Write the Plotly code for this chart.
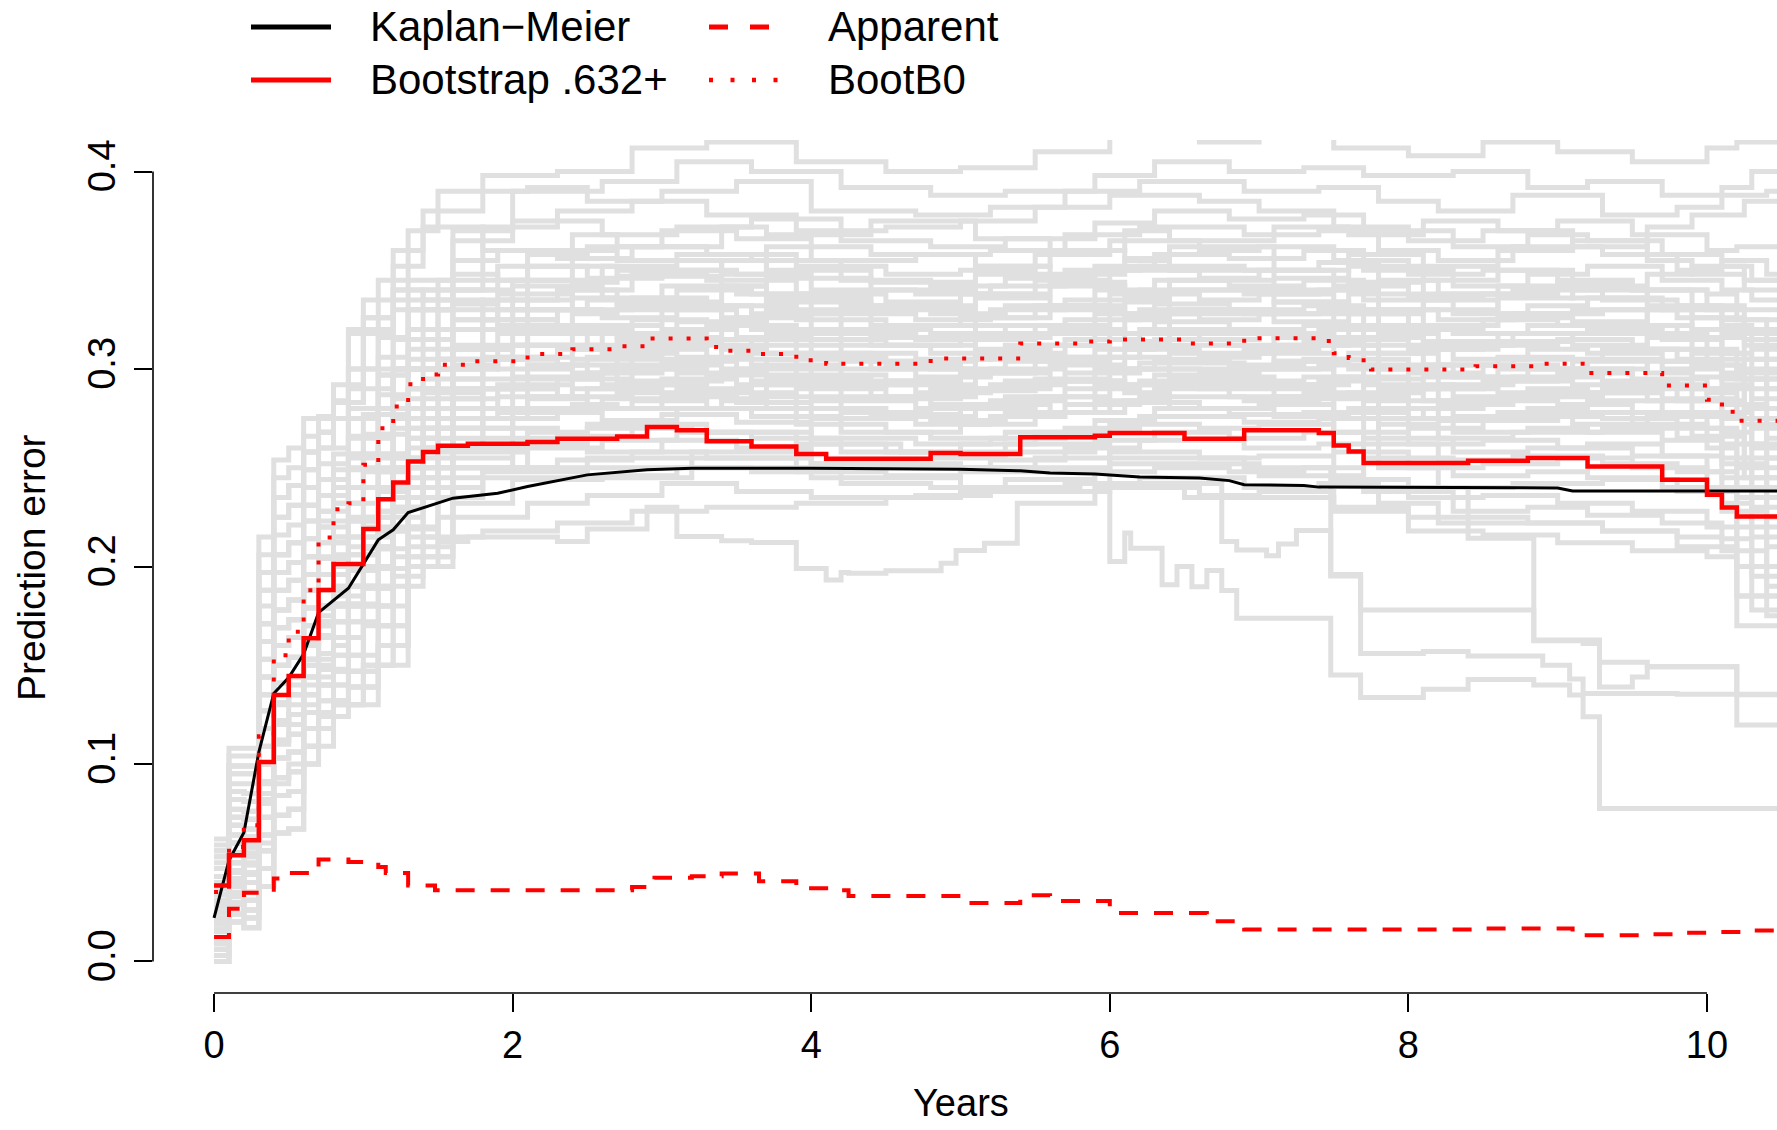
import plotly.graph_objects as go

# ---------------- data ----------------
# Kaplan-Meier reference curve (piecewise linear)
km_t = [0, 0.1, 0.2, 0.3, 0.4, 0.5, 0.6, 0.7, 0.9, 1.1, 1.2, 1.3, 1.6, 1.9, 2.1, 2.5, 2.9, 3.2,
        4.0, 5.0, 5.4, 5.6, 5.9, 6.2, 6.6, 6.8, 6.9, 7.3, 7.4, 9.0, 9.1, 10.5]
km_y = [0.022, 0.0512, 0.0653, 0.106, 0.1357, 0.1438, 0.1557, 0.1766, 0.189, 0.2135, 0.2186, 0.2273,
        0.2346, 0.2371, 0.2405, 0.2464, 0.249, 0.2498, 0.2497, 0.2492, 0.2485, 0.2473, 0.2468, 0.2453,
        0.2448, 0.2435, 0.2414, 0.2410, 0.2402, 0.2398, 0.2383, 0.2383]

# Bootstrap .632+ (step)
b632_t = [0, 0.1, 0.2, 0.3, 0.4, 0.5, 0.6, 0.7, 0.8, 1.0, 1.1, 1.2, 1.3, 1.4, 1.5, 1.7, 2.1, 2.3, 2.7,
          2.9, 3.1, 3.3, 3.6, 3.9, 4.1, 4.8, 5.0, 5.4, 5.9, 6.0, 6.5, 6.9, 7.4, 7.5, 7.6, 7.7, 8.4,
          8.8, 9.2, 9.7, 10.0, 10.1, 10.2]
b632_y = [0.0385, 0.0537, 0.0613, 0.101, 0.1349, 0.1445, 0.1636, 0.1881, 0.2013, 0.219, 0.234, 0.2426,
          0.2532, 0.258, 0.2612, 0.2622, 0.263, 0.2647, 0.2659, 0.2706, 0.269, 0.2634, 0.2608, 0.257,
          0.2546, 0.2575, 0.257, 0.2654, 0.2662, 0.2676, 0.2647, 0.269, 0.2676, 0.2613, 0.2583, 0.2524,
          0.2535, 0.2549, 0.2507, 0.2439, 0.2363, 0.2299, 0.2253]

# Apparent (step)
app_t = [0, 0.1, 0.2, 0.4, 0.5, 0.7, 0.9, 1.1, 1.15, 1.3, 1.48, 2.8, 2.95, 3.2, 3.4, 3.65, 3.9,
         4.1, 4.25, 5.0, 5.4, 5.6, 6.0, 6.05, 6.65, 6.9, 8.5, 9.1, 9.55, 9.8, 10.05, 10.3]
app_y = [0.0123, 0.0267, 0.0348, 0.042, 0.0448, 0.0516, 0.0504, 0.0478, 0.0448, 0.0385, 0.036,
         0.0377, 0.0424, 0.0431, 0.0445, 0.0406, 0.037, 0.036, 0.0331, 0.0296, 0.0335, 0.0306,
         0.0275, 0.0245, 0.0203, 0.0162, 0.0167, 0.0132, 0.0138, 0.0145, 0.0149, 0.0157]

# BootB0 (step)
b0_t = [0, 0.1, 0.2, 0.3, 0.4, 0.5, 0.6, 0.7, 0.8, 0.9, 1.0, 1.1, 1.2, 1.3, 1.4, 1.5, 1.7, 2.1, 2.4,
        2.7, 2.9, 3.3, 3.4, 3.6, 3.9, 4.1, 4.8, 5.4, 5.85, 6.0, 6.5, 6.9, 7.45, 7.5, 7.6, 7.7, 7.75,
        8.45, 8.9, 9.2, 9.7, 10.0, 10.1, 10.15, 10.2]
b0_y = [0.0352, 0.058, 0.069, 0.114, 0.155, 0.167, 0.188, 0.2147, 0.229, 0.232, 0.2515, 0.270, 0.281,
        0.2923, 0.2973, 0.3022, 0.304, 0.3076, 0.310, 0.3115, 0.3155, 0.3112, 0.3093, 0.3076, 0.3044,
        0.3027, 0.3053, 0.3129, 0.3139, 0.315, 0.3129, 0.3156, 0.3142, 0.308, 0.3056, 0.3032, 0.2998,
        0.3014, 0.3027, 0.298, 0.2917, 0.2845, 0.2821, 0.2784, 0.2738]

# bootstrap curves (grey, step) on four evaluation grids
times_a = [0, 0.1, 0.2, 0.3, 0.4, 0.5, 0.6, 0.7, 0.8, 1.0, 1.2, 1.4, 1.8, 2.3, 2.8, 3.3, 3.9, 4.5,
           5.0, 5.5, 6.0, 6.6, 7.0, 7.5, 8.0, 8.5, 9.0, 9.5, 10.0, 10.2]
times_b = [0, 0.1, 0.2, 0.3, 0.4, 0.5, 0.6, 0.7, 0.9, 1.1, 1.3, 1.6, 2.0, 2.6, 3.1, 3.6, 4.2, 4.8,
           5.3, 5.9, 6.3, 6.8, 7.3, 7.7, 8.3, 8.8, 9.2, 9.7, 10.1, 10.3]
times_c = [0, 0.1, 0.2, 0.3, 0.4, 0.5, 0.6, 0.8, 0.9, 1.1, 1.3, 1.5, 2.1, 2.5, 3.0, 3.5, 4.0, 4.7,
           5.2, 5.7, 6.2, 6.9, 7.4, 7.8, 8.2, 8.7, 9.3, 9.8, 10.1, 10.4]
times_d = [0, 0.1, 0.2, 0.3, 0.4, 0.5, 0.6, 0.7, 0.8, 0.9, 1.2, 1.6, 1.9, 2.4, 2.7, 3.4, 3.7, 4.4,
           5.1, 5.6, 6.1, 6.4, 7.1, 7.6, 8.1, 8.6, 9.1, 9.6, 9.9, 10.25]

g01 = [0.056,0.099,0.099,0.197,0.235,0.241,0.258,0.268,0.283,0.326,0.352,0.380,0.398,0.400,0.412,0.415,0.405,0.400,0.402,0.410,0.418,0.415,0.420,0.412,0.408,0.415,0.410,0.405,0.412,0.415]
g02 = [0.047,0.086,0.085,0.171,0.206,0.212,0.231,0.244,0.257,0.297,0.330,0.365,0.390,0.395,0.405,0.400,0.392,0.388,0.390,0.398,0.405,0.400,0.402,0.398,0.400,0.392,0.395,0.388,0.392,0.400]
g03 = [0.062,0.108,0.108,0.215,0.254,0.260,0.275,0.284,0.300,0.345,0.370,0.390,0.392,0.385,0.390,0.395,0.380,0.378,0.382,0.390,0.395,0.390,0.392,0.385,0.380,0.388,0.378,0.382,0.388,0.390]
g04 = [0.037,0.073,0.072,0.144,0.178,0.183,0.205,0.220,0.232,0.267,0.300,0.340,0.372,0.380,0.385,0.378,0.370,0.372,0.375,0.382,0.388,0.385,0.380,0.372,0.365,0.370,0.375,0.368,0.360,0.362]
g05 = [0.053,0.095,0.095,0.188,0.225,0.231,0.249,0.260,0.275,0.316,0.345,0.370,0.375,0.368,0.372,0.376,0.365,0.362,0.366,0.374,0.380,0.376,0.378,0.370,0.362,0.368,0.365,0.358,0.352,0.345]
g06 = [0.031,0.064,0.063,0.127,0.160,0.164,0.188,0.204,0.215,0.248,0.290,0.330,0.358,0.362,0.370,0.366,0.355,0.358,0.360,0.368,0.372,0.368,0.370,0.360,0.355,0.362,0.358,0.350,0.355,0.348]
g07 = [0.059,0.104,0.104,0.206,0.245,0.250,0.266,0.276,0.292,0.335,0.360,0.372,0.360,0.356,0.362,0.358,0.352,0.348,0.350,0.358,0.365,0.360,0.362,0.355,0.348,0.350,0.345,0.340,0.338,0.330]
g08 = [0.025,0.055,0.053,0.109,0.141,0.144,0.170,0.188,0.198,0.228,0.270,0.310,0.345,0.352,0.358,0.355,0.345,0.342,0.346,0.352,0.358,0.356,0.360,0.350,0.342,0.348,0.352,0.345,0.340,0.335]
g09 = [0.043,0.082,0.081,0.162,0.197,0.202,0.223,0.236,0.249,0.287,0.320,0.345,0.352,0.346,0.350,0.348,0.340,0.338,0.342,0.350,0.352,0.350,0.354,0.345,0.338,0.340,0.335,0.332,0.325,0.318]
g10 = [0.019,0.046,0.044,0.091,0.122,0.125,0.153,0.172,0.181,0.209,0.255,0.300,0.335,0.340,0.348,0.345,0.338,0.334,0.338,0.345,0.350,0.346,0.350,0.342,0.336,0.338,0.344,0.340,0.330,0.325]
g11 = [0.050,0.090,0.090,0.180,0.216,0.221,0.240,0.252,0.266,0.306,0.330,0.340,0.342,0.336,0.340,0.338,0.332,0.328,0.332,0.340,0.345,0.342,0.345,0.335,0.328,0.332,0.336,0.330,0.322,0.310]
g12 = [0.034,0.069,0.067,0.135,0.169,0.173,0.196,0.212,0.223,0.257,0.290,0.320,0.330,0.335,0.342,0.338,0.328,0.325,0.330,0.335,0.340,0.338,0.340,0.330,0.325,0.328,0.330,0.326,0.318,0.305]
g13 = [0.012,0.038,0.035,0.073,0.103,0.106,0.135,0.156,0.164,0.189,0.235,0.285,0.325,0.330,0.336,0.332,0.325,0.322,0.326,0.332,0.338,0.335,0.338,0.328,0.320,0.325,0.322,0.318,0.310,0.300]
g14 = [0.040,0.077,0.076,0.153,0.188,0.193,0.214,0.228,0.240,0.277,0.305,0.320,0.330,0.326,0.332,0.328,0.320,0.318,0.322,0.328,0.333,0.330,0.332,0.322,0.318,0.322,0.320,0.315,0.308,0.298]
g15 = [0.028,0.060,0.058,0.118,0.150,0.154,0.179,0.196,0.206,0.238,0.275,0.305,0.320,0.322,0.330,0.326,0.318,0.315,0.318,0.325,0.330,0.328,0.330,0.318,0.312,0.318,0.322,0.316,0.305,0.290]
g16 = [0.056,0.099,0.099,0.197,0.235,0.241,0.258,0.268,0.283,0.326,0.340,0.335,0.325,0.320,0.325,0.322,0.315,0.312,0.315,0.322,0.328,0.325,0.328,0.315,0.310,0.312,0.315,0.310,0.302,0.295]
g17 = [0.022,0.050,0.049,0.100,0.131,0.135,0.161,0.180,0.190,0.218,0.260,0.295,0.312,0.318,0.324,0.320,0.312,0.308,0.312,0.318,0.324,0.320,0.322,0.312,0.305,0.310,0.308,0.304,0.298,0.285]
g18 = [0.037,0.073,0.072,0.144,0.178,0.183,0.205,0.220,0.232,0.267,0.290,0.305,0.318,0.312,0.320,0.316,0.308,0.305,0.308,0.315,0.320,0.318,0.320,0.308,0.302,0.305,0.310,0.305,0.295,0.280]
g19 = [0.006,0.029,0.026,0.056,0.084,0.086,0.118,0.140,0.147,0.170,0.220,0.270,0.305,0.310,0.318,0.315,0.306,0.302,0.305,0.312,0.318,0.315,0.318,0.305,0.298,0.302,0.300,0.295,0.288,0.275]
g20 = [0.047,0.086,0.085,0.171,0.206,0.212,0.231,0.244,0.257,0.297,0.310,0.310,0.312,0.308,0.315,0.312,0.304,0.300,0.304,0.310,0.315,0.312,0.314,0.302,0.296,0.300,0.305,0.300,0.292,0.270]
g21 = [0.016,0.042,0.040,0.082,0.112,0.115,0.144,0.164,0.172,0.199,0.240,0.280,0.302,0.306,0.312,0.308,0.300,0.296,0.300,0.306,0.312,0.310,0.312,0.300,0.292,0.296,0.294,0.290,0.282,0.265]
g22 = [0.031,0.064,0.063,0.127,0.160,0.164,0.188,0.204,0.215,0.248,0.280,0.295,0.306,0.302,0.310,0.305,0.297,0.294,0.298,0.304,0.310,0.306,0.308,0.296,0.290,0.294,0.298,0.292,0.285,0.275]
g23 = [0.000,0.020,0.017,0.038,0.065,0.067,0.100,0.124,0.130,0.150,0.200,0.255,0.295,0.300,0.306,0.302,0.294,0.290,0.294,0.300,0.305,0.302,0.305,0.292,0.286,0.290,0.288,0.285,0.278,0.260]
g24 = [0.025,0.055,0.053,0.109,0.141,0.144,0.170,0.188,0.198,0.228,0.265,0.290,0.302,0.298,0.304,0.300,0.292,0.288,0.292,0.298,0.303,0.300,0.302,0.290,0.282,0.286,0.290,0.284,0.275,0.255]
g25 = [0.009,0.033,0.031,0.064,0.093,0.096,0.126,0.148,0.155,0.180,0.225,0.270,0.290,0.295,0.300,0.297,0.290,0.285,0.289,0.295,0.300,0.298,0.300,0.286,0.280,0.284,0.282,0.278,0.270,0.250]
g26 = [0.034,0.069,0.067,0.135,0.169,0.173,0.196,0.212,0.223,0.257,0.280,0.290,0.296,0.292,0.298,0.294,0.286,0.282,0.286,0.292,0.297,0.294,0.296,0.284,0.276,0.280,0.284,0.278,0.268,0.245]
g27 = [0.019,0.046,0.044,0.091,0.122,0.125,0.153,0.172,0.181,0.209,0.245,0.275,0.286,0.290,0.295,0.292,0.284,0.280,0.284,0.290,0.294,0.292,0.294,0.280,0.274,0.276,0.275,0.270,0.262,0.240]
g28 = [0.040,0.077,0.076,0.153,0.188,0.193,0.214,0.228,0.240,0.277,0.285,0.288,0.290,0.286,0.292,0.288,0.280,0.277,0.280,0.286,0.292,0.290,0.290,0.278,0.270,0.274,0.278,0.272,0.260,0.235]
g29 = [0.003,0.024,0.022,0.047,0.074,0.077,0.109,0.132,0.139,0.160,0.210,0.260,0.280,0.285,0.290,0.286,0.278,0.274,0.278,0.284,0.290,0.286,0.288,0.275,0.268,0.270,0.268,0.264,0.255,0.230]
g30 = [0.028,0.060,0.058,0.118,0.150,0.154,0.179,0.196,0.206,0.238,0.265,0.280,0.285,0.280,0.286,0.283,0.275,0.272,0.276,0.282,0.286,0.284,0.285,0.272,0.265,0.268,0.270,0.265,0.252,0.225]
g31 = [0.012,0.038,0.035,0.073,0.103,0.106,0.135,0.156,0.164,0.189,0.230,0.265,0.275,0.280,0.284,0.280,0.272,0.268,0.272,0.278,0.283,0.280,0.282,0.268,0.262,0.264,0.260,0.256,0.248,0.220]
g32 = [0.022,0.050,0.049,0.100,0.131,0.135,0.161,0.180,0.190,0.218,0.250,0.270,0.278,0.274,0.280,0.276,0.268,0.265,0.268,0.274,0.280,0.277,0.278,0.265,0.258,0.260,0.262,0.256,0.245,0.215]
g33 = [0.006,0.029,0.026,0.056,0.084,0.086,0.118,0.140,0.147,0.170,0.215,0.258,0.268,0.272,0.277,0.273,0.265,0.262,0.265,0.270,0.276,0.273,0.275,0.262,0.254,0.256,0.252,0.248,0.240,0.210]
g34 = [0.016,0.042,0.040,0.082,0.112,0.115,0.144,0.164,0.172,0.199,0.235,0.260,0.270,0.266,0.272,0.268,0.262,0.258,0.262,0.268,0.272,0.270,0.272,0.258,0.250,0.252,0.255,0.250,0.238,0.200]
g35 = [0.003,0.024,0.022,0.047,0.074,0.077,0.109,0.132,0.139,0.160,0.205,0.250,0.260,0.264,0.268,0.265,0.258,0.255,0.258,0.264,0.268,0.265,0.268,0.255,0.246,0.248,0.245,0.240,0.232,0.195]
g36 = [0.009,0.033,0.031,0.064,0.093,0.096,0.126,0.148,0.155,0.180,0.220,0.250,0.262,0.258,0.264,0.260,0.252,0.250,0.254,0.260,0.264,0.260,0.262,0.250,0.240,0.242,0.244,0.238,0.228,0.190]
g37 = [0.000,0.020,0.017,0.038,0.065,0.067,0.100,0.124,0.130,0.150,0.195,0.235,0.250,0.254,0.258,0.255,0.248,0.246,0.250,0.255,0.258,0.255,0.256,0.244,0.235,0.236,0.232,0.228,0.220,0.185]
g38 = [0.006,0.029,0.026,0.056,0.084,0.086,0.118,0.140,0.147,0.170,0.205,0.232,0.244,0.246,0.250,0.248,0.242,0.240,0.244,0.248,0.250,0.248,0.250,0.238,0.228,0.230,0.226,0.222,0.214,0.178]
g39 = [0.003,0.024,0.022,0.047,0.074,0.077,0.109,0.132,0.139,0.160,0.200,0.225,0.232,0.236,0.242,0.238,0.235,0.236,0.240,0.242,0.245,0.240,0.242,0.232,0.222,0.222,0.218,0.215,0.208,0.175]
g40 = [0.000,0.020,0.017,0.038,0.065,0.067,0.100,0.124,0.130,0.150,0.190,0.215,0.218,0.222,0.228,0.230,0.232,0.235,0.238,0.238,0.240,0.236,0.235,0.228,0.218,0.216,0.212,0.208,0.205,0.170]

h01 = [0.043,0.082,0.081,0.162,0.197,0.202,0.223,0.236,0.249,0.300,0.335,0.355,0.360,0.368,0.362,0.372,0.368,0.375,0.366,0.360,0.370,0.365,0.372,0.368,0.375,0.370,0.362,0.372,0.378,0.385]
h02 = [0.022,0.050,0.049,0.100,0.131,0.135,0.161,0.180,0.190,0.240,0.300,0.340,0.352,0.360,0.355,0.348,0.362,0.358,0.352,0.360,0.355,0.362,0.350,0.358,0.352,0.360,0.365,0.355,0.348,0.340]
h03 = [0.053,0.095,0.095,0.188,0.225,0.231,0.249,0.260,0.275,0.320,0.340,0.348,0.345,0.352,0.347,0.355,0.350,0.344,0.352,0.348,0.356,0.350,0.346,0.352,0.345,0.350,0.342,0.348,0.352,0.345]
h04 = [0.012,0.038,0.035,0.073,0.103,0.106,0.135,0.156,0.164,0.200,0.270,0.320,0.338,0.344,0.350,0.342,0.346,0.340,0.348,0.344,0.338,0.345,0.340,0.344,0.338,0.342,0.336,0.340,0.332,0.320]
h05 = [0.037,0.073,0.072,0.144,0.178,0.183,0.205,0.220,0.232,0.280,0.315,0.333,0.335,0.340,0.334,0.342,0.336,0.332,0.338,0.342,0.336,0.340,0.334,0.338,0.330,0.336,0.340,0.332,0.326,0.315]
h06 = [0.028,0.060,0.058,0.118,0.150,0.154,0.179,0.196,0.206,0.255,0.300,0.325,0.330,0.336,0.330,0.326,0.334,0.330,0.336,0.330,0.334,0.328,0.334,0.330,0.335,0.328,0.324,0.330,0.320,0.312]
h07 = [0.056,0.099,0.099,0.197,0.235,0.241,0.258,0.268,0.283,0.318,0.330,0.325,0.322,0.328,0.332,0.325,0.330,0.322,0.326,0.332,0.326,0.330,0.324,0.328,0.322,0.326,0.330,0.322,0.316,0.305]
h08 = [0.009,0.033,0.031,0.064,0.093,0.096,0.126,0.148,0.155,0.190,0.250,0.300,0.318,0.322,0.316,0.324,0.320,0.316,0.322,0.318,0.325,0.320,0.316,0.320,0.314,0.318,0.312,0.316,0.308,0.295]
h09 = [0.034,0.069,0.067,0.135,0.169,0.173,0.196,0.212,0.223,0.265,0.300,0.312,0.312,0.318,0.314,0.310,0.318,0.312,0.316,0.320,0.314,0.318,0.312,0.316,0.310,0.314,0.318,0.310,0.302,0.290]
h10 = [0.019,0.046,0.044,0.091,0.122,0.125,0.153,0.172,0.181,0.225,0.275,0.300,0.306,0.310,0.305,0.312,0.308,0.304,0.310,0.306,0.312,0.308,0.304,0.308,0.302,0.306,0.300,0.304,0.296,0.280]
h11 = [0.047,0.086,0.085,0.171,0.206,0.212,0.231,0.244,0.257,0.290,0.300,0.302,0.300,0.305,0.302,0.298,0.305,0.300,0.306,0.302,0.306,0.300,0.304,0.300,0.296,0.300,0.304,0.298,0.290,0.272]
h12 = [0.006,0.029,0.026,0.056,0.084,0.086,0.118,0.140,0.147,0.180,0.240,0.280,0.292,0.298,0.294,0.300,0.296,0.292,0.298,0.294,0.300,0.296,0.292,0.295,0.290,0.294,0.288,0.292,0.284,0.262]
h13 = [0.031,0.064,0.063,0.127,0.160,0.164,0.188,0.204,0.215,0.250,0.275,0.285,0.286,0.290,0.288,0.284,0.292,0.286,0.290,0.294,0.288,0.292,0.286,0.288,0.284,0.288,0.292,0.284,0.276,0.255]
h14 = [0.016,0.042,0.040,0.082,0.112,0.115,0.144,0.164,0.172,0.210,0.255,0.275,0.278,0.282,0.280,0.285,0.280,0.276,0.282,0.278,0.284,0.280,0.276,0.280,0.275,0.278,0.272,0.276,0.266,0.245]

# outlying bootstrap curves (own step times)
outA_t = [0, 0.1, 0.2, 0.3, 0.4, 0.5, 0.6, 0.7, 0.8, 0.9, 1.0, 1.2, 1.3, 1.5, 1.7, 2.3, 2.5, 2.9, 3.1,
          3.4, 3.6, 3.9, 4.1, 4.2, 4.25, 4.5, 4.87, 4.97, 5.16, 5.38, 5.9, 6.5, 7.0, 7.5, 8.0, 8.8,
          9.3, 9.8, 10.2]
outA_y = [0.010, 0.030, 0.040, 0.060, 0.090, 0.100, 0.130, 0.150, 0.160, 0.180, 0.190, 0.205, 0.219,
          0.2126, 0.215, 0.2126, 0.219, 0.230, 0.2152, 0.2131, 0.2121, 0.199, 0.1932, 0.197, 0.1966,
          0.1978, 0.2017, 0.2081, 0.2118, 0.232, 0.240, 0.235, 0.238, 0.230, 0.225, 0.222, 0.218,
          0.210, 0.185]
outB_t = [0, 0.1, 0.2, 0.3, 0.4, 0.5, 0.6, 0.7, 0.8, 1.0, 1.2, 1.4, 1.8, 2.5, 3.2, 4.0, 4.6, 5.3,
          6.0, 6.1, 6.14, 6.35, 6.45, 6.55, 6.65, 6.75, 6.85, 7.48, 7.68, 8.1, 8.4, 8.84, 9.08, 9.17,
          9.28]
outB_y = [0.020, 0.040, 0.045, 0.080, 0.120, 0.130, 0.150, 0.170, 0.190, 0.220, 0.250, 0.260, 0.265,
          0.270, 0.268, 0.262, 0.258, 0.262, 0.2025, 0.217, 0.2093, 0.1907, 0.200, 0.1898, 0.198,
          0.1878, 0.1738, 0.145, 0.1337, 0.1378, 0.1428, 0.140, 0.1349, 0.1239, 0.0774]
outC_t = [0, 0.1, 0.2, 0.3, 0.4, 0.5, 0.6, 0.7, 0.8, 1.0, 1.2, 1.4, 1.8, 2.5, 3.2, 4.0, 5.0, 5.8,
          6.75, 6.85, 7.05, 7.13, 7.25, 7.48, 7.68, 8.84, 9.17, 9.28, 9.5, 9.6, 10.2]
outC_y = [0.030, 0.050, 0.060, 0.100, 0.130, 0.140, 0.160, 0.180, 0.200, 0.225, 0.240, 0.250, 0.248,
          0.245, 0.250, 0.245, 0.240, 0.242, 0.2126, 0.2084, 0.2054, 0.2114, 0.2182, 0.1952, 0.178,
          0.1624, 0.161, 0.139, 0.144, 0.1492, 0.1197]
outD_t = [0, 0.1, 0.2, 0.3, 0.4, 0.5, 0.6, 0.7, 0.8, 1.0, 1.2, 1.4, 1.8, 2.5, 3.2, 4.0, 5.0, 6.0,
          6.9, 7.48, 7.68, 8.1, 8.4, 8.9, 9.08, 9.17, 9.8]
outD_y = [0.015, 0.035, 0.050, 0.090, 0.120, 0.125, 0.140, 0.165, 0.180, 0.210, 0.230, 0.240, 0.245,
          0.250, 0.255, 0.250, 0.250, 0.255, 0.250, 0.196, 0.156, 0.157, 0.1547, 0.150, 0.143,
          0.1357, 0.1353]
outE_t = [0, 0.1, 0.2, 0.3, 0.4, 0.5, 0.6, 0.7, 0.8, 1.0, 1.2, 1.4, 1.8, 2.5, 3.2, 4.0, 5.0, 6.0,
          7.0, 7.7, 8.4, 8.84, 9.28, 9.6, 10.2]
outE_y = [0.025, 0.045, 0.055, 0.085, 0.110, 0.120, 0.150, 0.175, 0.185, 0.215, 0.235, 0.245, 0.250,
          0.255, 0.258, 0.252, 0.248, 0.252, 0.246, 0.240, 0.2143, 0.1628, 0.1515, 0.1492, 0.135]

END_T = 10.5

# legend labels
legend_col1 = ["Kaplan\u2212Meier", "Bootstrap .632+"]
legend_col2 = ["Apparent", "BootB0"]

# ---------------- figure ----------------
GREY = "#E0E0E0"
RED = "#FF0000"
FONT = "Liberation Sans, Arial, Helvetica, sans-serif"

fig = go.Figure()

grey_sets = [
    (times_a, g01), (times_b, g02), (times_c, g03), (times_a, g04), (times_b, g05),
    (times_c, g06), (times_a, g07), (times_b, g08), (times_c, g09), (times_a, g10),
    (times_b, g11), (times_c, g12), (times_a, g13), (times_b, g14), (times_c, g15),
    (times_a, g16), (times_b, g17), (times_c, g18), (times_a, g19), (times_b, g20),
    (times_c, g21), (times_a, g22), (times_b, g23), (times_c, g24), (times_a, g25),
    (times_b, g26), (times_c, g27), (times_a, g28), (times_b, g29), (times_c, g30),
    (times_a, g31), (times_b, g32), (times_c, g33), (times_a, g34), (times_b, g35),
    (times_c, g36), (times_a, g37), (times_b, g38), (times_c, g39), (times_a, g40),
    (times_d, h01), (times_d, h02), (times_d, h03), (times_d, h04), (times_d, h05),
    (times_d, h06), (times_d, h07), (times_d, h08), (times_d, h09), (times_d, h10),
    (times_d, h11), (times_d, h12), (times_d, h13), (times_d, h14),
    (outA_t, outA_y), (outB_t, outB_y), (outC_t, outC_y), (outD_t, outD_y), (outE_t, outE_y),
]


def step_xy(t, y):
    return list(t) + [END_T], list(y) + [y[-1]]


for t, y in grey_sets:
    xs, ys = step_xy(t, y)
    fig.add_trace(go.Scatter(x=xs, y=ys, mode="lines", line=dict(color=GREY, width=5, shape="hv"),
                             showlegend=False, hoverinfo="skip"))

fig.add_trace(go.Scatter(x=km_t, y=km_y, mode="lines", name=legend_col1[0],
                         line=dict(color="black", width=3), showlegend=False))
xs, ys = step_xy(app_t, app_y)
fig.add_trace(go.Scatter(x=xs, y=ys, mode="lines", name=legend_col2[0],
                         line=dict(color=RED, width=4, shape="hv", dash="19px,16px"), showlegend=False))
xs, ys = step_xy(b632_t, b632_y)
fig.add_trace(go.Scatter(x=xs, y=ys, mode="lines", name=legend_col1[1],
                         line=dict(color=RED, width=4.5, shape="hv"), showlegend=False))
xs, ys = step_xy(b0_t, b0_y)
fig.add_trace(go.Scatter(x=xs, y=ys, mode="lines", name=legend_col2[1],
                         line=dict(color=RED, width=4, shape="hv", dash="4px,14px"), showlegend=False))

# plot area geometry (px): left 153, right 1777, top 140, bottom 993
W, H = 1777, 1130
L, R, T, B = 153, 0, 140, 137
pw, ph = W - L - R, H - T - B


def px_x(p):
    return (p - L) / pw


def px_y(p):
    return (H - B - p) / ph


shapes = [
    dict(type="line", xref="x", yref="paper", x0=0, x1=10, y0=0, y1=0,
         line=dict(color="black", width=1.6)),
    dict(type="line", xref="paper", yref="y", x0=0, x1=0, y0=0, y1=0.4,
         line=dict(color="black", width=1.6)),
]
annotations = []

# manual legend (two columns, as in the reference)
rows_y = [27, 80]
col1_line = (251, 331)
col2_line = (709, 778)
col1_text = 368
col2_text = 826
leg_styles_col1 = [dict(color="black", width=5), dict(color=RED, width=5)]
leg_styles_col2 = [dict(color=RED, width=5, dash="19px,22px"), dict(color=RED, width=4.5, dash="4px,17.5px")]
for i in range(2):
    yy = px_y(rows_y[i])
    shapes.append(dict(type="line", xref="paper", yref="paper", x0=px_x(col1_line[0]), x1=px_x(col1_line[1]),
                       y0=yy, y1=yy, line=leg_styles_col1[i]))
    shapes.append(dict(type="line", xref="paper", yref="paper", x0=px_x(col2_line[0]), x1=px_x(col2_line[1]),
                       y0=yy, y1=yy, line=leg_styles_col2[i]))
    annotations.append(dict(xref="paper", yref="paper", x=px_x(col1_text), y=yy, text=legend_col1[i],
                            showarrow=False, xanchor="left", yanchor="middle",
                            font=dict(family=FONT, size=42, color="black")))
    annotations.append(dict(xref="paper", yref="paper", x=px_x(col2_text), y=yy, text=legend_col2[i],
                            showarrow=False, xanchor="left", yanchor="middle",
                            font=dict(family=FONT, size=42, color="black")))

# axis titles
annotations.append(dict(xref="paper", yref="paper", x=px_x(961), y=px_y(1103), text="Years",
                        showarrow=False, xanchor="center", yanchor="middle",
                        font=dict(family=FONT, size=38, color="black")))
annotations.append(dict(xref="paper", yref="paper", x=px_x(31), y=px_y(567), text="Prediction error",
                        showarrow=False, xanchor="center", yanchor="middle", textangle=-90,
                        font=dict(family=FONT, size=39, color="black")))

fig.update_layout(
    width=W, height=H,
    margin=dict(l=L, r=R, t=T, b=B, pad=0),
    paper_bgcolor="white", plot_bgcolor="white",
    font=dict(family=FONT, color="black"),
    showlegend=False,
    shapes=shapes, annotations=annotations,
    xaxis=dict(range=[-0.409, 10.469], tickvals=[0, 2, 4, 6, 8, 10], ticktext=["0", "2", "4", "6", "8", "10"],
               ticks="outside", ticklen=18, tickwidth=1.6, tickcolor="black",
               showline=False, showgrid=False, zeroline=False,
               tickfont=dict(family=FONT, size=38, color="black"), ticklabelstandoff=0),
    yaxis=dict(range=[-0.016, 0.416], tickvals=[0, 0.1, 0.2, 0.3, 0.4],
               ticktext=["0.0", "0.1", "0.2", "0.3", "0.4"], tickangle=-90,
               ticks="outside", ticklen=18, tickwidth=1.6, tickcolor="black",
               showline=False, showgrid=False, zeroline=False,
               tickfont=dict(family=FONT, size=38, color="black"), ticklabelstandoff=4),
)

fig.write_html("out.html")
